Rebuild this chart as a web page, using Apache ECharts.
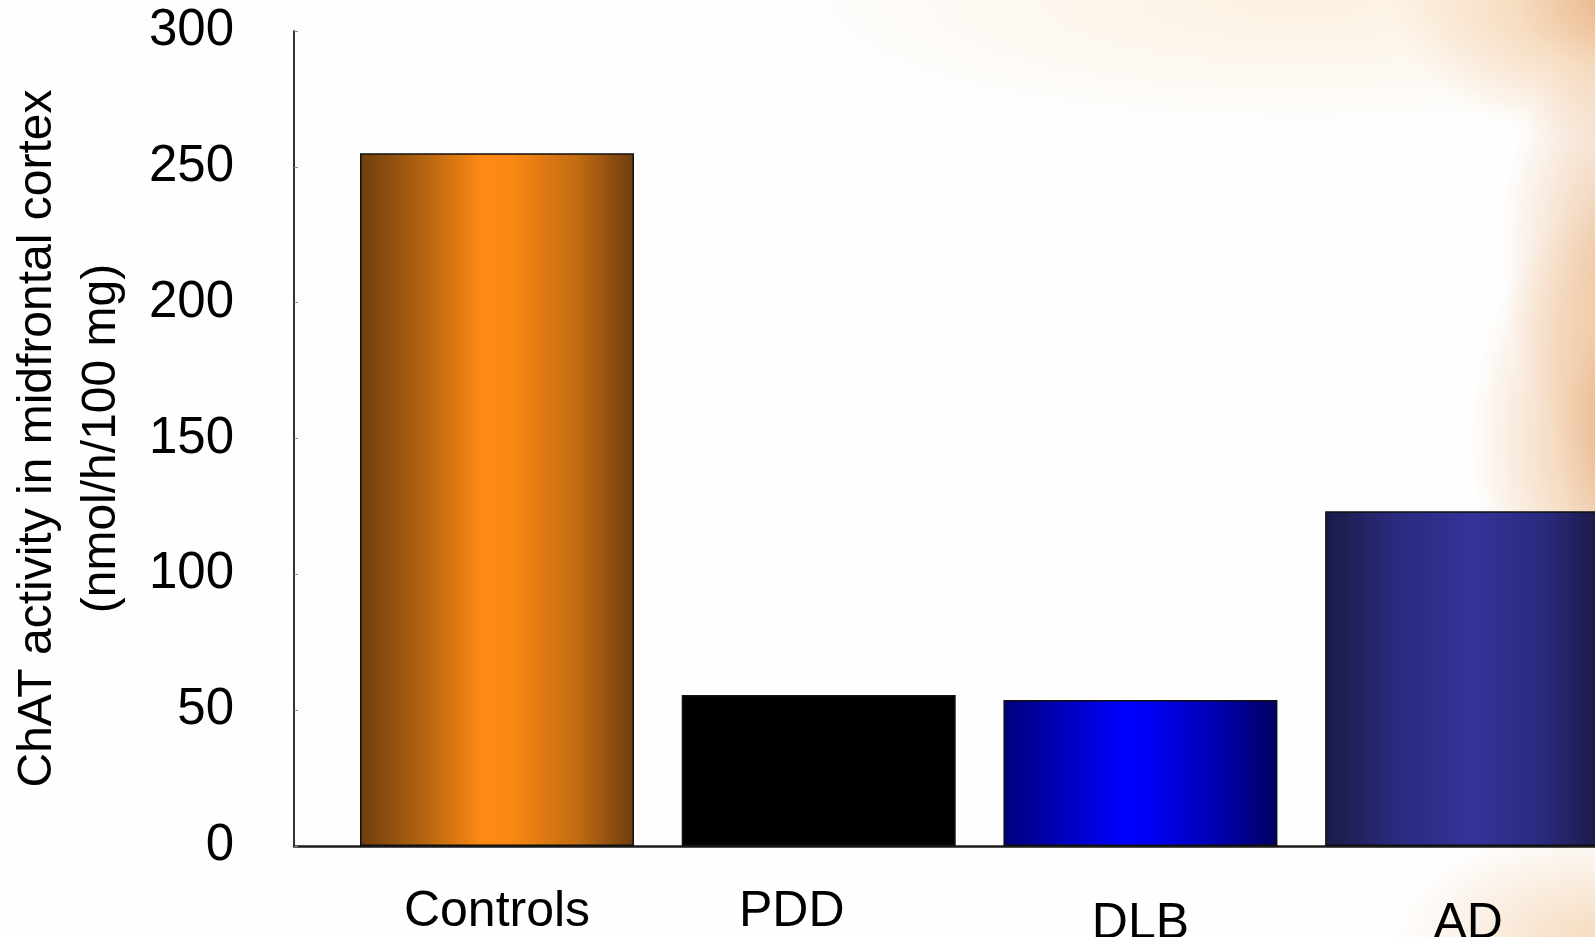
<!DOCTYPE html>
<html>
<head>
<meta charset="utf-8">
<title>ChAT activity in midfrontal cortex</title>
<script src="https://cdn.jsdelivr.net/npm/echarts@6/dist/echarts.min.js"></script>
<style>
  html, body { margin: 0; padding: 0; }
  body {
    width: 1595px; height: 937px; overflow: hidden;
    background:
      radial-gradient(ellipse 170px 250px at 1640px 440px, rgba(222,150,90,0.85) 0%, rgba(236,185,135,0.5) 50%, rgba(255,240,225,0) 100%),
      radial-gradient(ellipse 120px 220px at 1620px 250px, rgba(232,175,125,0.7) 0%, rgba(255,240,225,0) 100%),
      radial-gradient(ellipse 250px 150px at 1640px 0px, rgba(228,160,105,0.9) 0%, rgba(240,195,150,0.5) 50%, rgba(255,240,225,0) 100%),
      radial-gradient(ellipse 520px 130px at 1300px 0px, rgba(250,230,200,0.55) 0%, rgba(255,245,230,0) 100%),
      radial-gradient(ellipse 200px 110px at 1595px 937px, rgba(242,205,165,0.7) 0%, rgba(255,245,230,0) 100%),
      #fefefe;
  }
  #chart { width: 1595px; height: 937px; }
</style>
</head>
<body>
<div id="chart"></div>
<script>
// Choline acetyltransferase activity by diagnostic group
const categories = ['Controls', 'PDD', 'DLB', 'AD'];
const chatActivity = [255, 55.6, 53.7, 123.2];
const yTicks = [0, 50, 100, 150, 200, 250, 300];

// Horizontal "cylinder" shading for each bar
function shade(stops) {
  return new echarts.graphic.LinearGradient(0, 0, 1, 0,
    stops.map(s => ({ offset: s[0], color: s[1] })));
}
const barFills = [
  shade([[0, '#6e3f0e'], [0.2, '#a95e10'], [0.45, '#ff8a14'], [0.55, '#fb8814'], [0.8, '#c06a12'], [1, '#6c3d0e']]),
  '#000000',
  shade([[0, '#00007a'], [0.2, '#0000b8'], [0.45, '#0000ff'], [0.55, '#0000f0'], [0.8, '#0000a8'], [1, '#000060']]),
  shade([[0, '#1a1a46'], [0.25, '#2a2a7e'], [0.54, '#333399'], [0.8, '#2a2a7e'], [1, '#1a1a46']])
];

// Label styles: the last two group names sit a little lower
const labelRich = {
  hi: { fontSize: 50, fontFamily: 'Liberation Sans', color: '#000', padding: [0, 0, 0, 0] },
  hiL: { fontSize: 50, fontFamily: 'Liberation Sans', color: '#000', padding: [0, 54, 0, 0] },
  lo: { fontSize: 50, fontFamily: 'Liberation Sans', color: '#000', padding: [12, 0, 0, 0] },
  loR: { fontSize: 50, fontFamily: 'Liberation Sans', color: '#000', padding: [12, 0, 0, 12] }
};
const labelKey = ['hi', 'hiL', 'lo', 'loR'];

const chart = echarts.init(document.getElementById('chart'), null, { renderer: 'canvas' });

chart.setOption({
  backgroundColor: 'transparent',
  animation: false,
  grid: { left: 294, right: 0, top: 31, bottom: 91, outerBoundsMode: 'none', containLabel: false },
  xAxis: {
    type: 'value',
    min: -0.631,
    max: 3.413,
    splitLine: { show: false },
    axisTick: { show: false },
    axisLine: { show: true, onZero: false, lineStyle: { color: '#1a1a1a', width: 2.5 } },
    axisLabel: {
      customValues: categories.map((c, i) => i),
      margin: 41,
      formatter: v => {
        const i = Math.round(v);
        return '{' + labelKey[i] + '|' + categories[i] + '}';
      },
      rich: labelRich
    }
  },
  yAxis: {
    type: 'value',
    min: 0,
    max: 300,
    interval: 50,
    splitLine: { show: false },
    axisLine: { show: true, onZero: false, lineStyle: { color: '#333', width: 2 } },
    axisTick: { show: true, inside: true, length: 4, lineStyle: { color: '#888', width: 1 } },
    axisLabel: {
      customValues: yTicks,
      margin: 60,
      fontSize: 51,
      fontFamily: 'Liberation Sans',
      color: '#000'
    },
    name: 'ChAT activity in midfrontal cortex\n(nmol/h/100 mg)',
    nameLocation: 'middle',
    nameRotate: 90,
    nameGap: 160,
    nameTextStyle: {
      fontSize: 48,
      lineHeight: 64,
      fontFamily: 'Liberation Sans',
      color: '#000',
      align: 'center'
    }
  },
  series: [{
    type: 'bar',
    barWidth: 274,
    clip: true,
    data: chatActivity.map((v, i) => ({
      value: [i, v],
      itemStyle: { color: barFills[i], borderColor: '#111', borderWidth: 1.5 }
    }))
  }]
});
</script>
</body>
</html>
